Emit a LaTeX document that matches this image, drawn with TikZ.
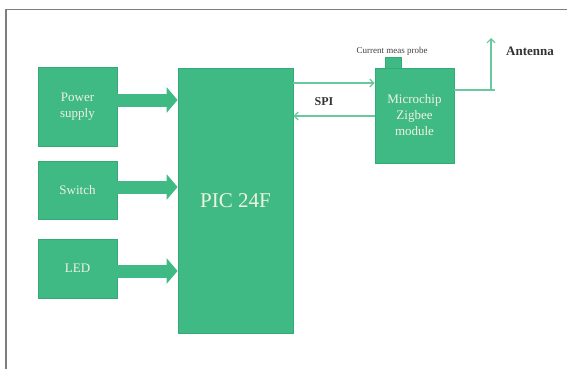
\documentclass[tikz,border=0pt]{standalone}
\usepackage{fontspec}
\setmainfont{Liberation Serif}
\usetikzlibrary{arrows.meta}
\definecolor{gfill}{RGB}{64,186,132}
\definecolor{gdraw}{RGB}{52,170,116}
\definecolor{gline}{RGB}{105,200,158}
\definecolor{gtext}{RGB}{240,242,225}
\definecolor{frame}{RGB}{125,125,125}
\tikzset{
  blk/.style={fill=gfill, draw=gdraw, line width=0.8pt, inner sep=0pt, align=center,
    text=gtext, font=\fontsize{13}{16}\selectfont},
  bigarrow/.style={draw=gfill, line width=13pt, line cap=butt,
    -{Triangle[length=11pt,width=25pt,fill=gfill,color=gfill]}},
  thinarrow/.style={draw=gline, line width=1.2pt, -{Straight Barb[length=4pt,width=8pt]}},
  thinline/.style={draw=gline, line width=1.2pt},
  lbl/.style={inner sep=0pt, text=black!80, font=\fontsize{12}{14}\selectfont\bfseries}
}
\begin{document}
\begin{tikzpicture}[x=1pt,y=-1pt]
\useasboundingbox (0,0) rectangle (567,369);
% frame
\draw[frame, line width=1.2pt] (6,369) -- (6,9.5) -- (567,9.5);
% left boxes
\node[blk, minimum width=79, minimum height=79] (ps) at (77.5,106.5) {Power\\supply};
\node[blk, minimum width=79, minimum height=58] (sw) at (77.5,190) {Switch};
\node[blk, minimum width=79, minimum height=59] (led) at (77.5,268.5) {LED};
% PIC
\node[blk, minimum width=115, minimum height=265, font=\fontsize{21}{25}\selectfont] (pic) at (235.5,200.5) {PIC 24F};
% Zigbee module
\node[blk, minimum width=79, minimum height=95] (zb) at (414.5,115.5) {Microchip\\Zigbee\\module};
\node[blk, minimum width=16, minimum height=11] (probe) at (393,62.5) {};
\node[inner sep=0pt, text=black!75, font=\fontsize{9}{10}\selectfont] (probelbl) at (392,51) {Current meas probe};
% block arrows
\draw[bigarrow] (ps.east |- 0,100) -- (pic.west |- 0,100);
\draw[bigarrow] (sw.east |- 0,187) -- (pic.west |- 0,187);
\draw[bigarrow] (led.east |- 0,271) -- (pic.west |- 0,271);
% SPI
\draw[thinarrow] (pic.east |- 0,83) -- (zb.west |- 0,83);
\draw[thinarrow] (zb.west |- 0,116) -- (pic.east |- 0,116);
\node[lbl] (spi) at (324,102) {SPI};
% antenna
\coordinate (antb) at (491,90);
\coordinate (antt) at (491,38);
\coordinate (ante) at (495,90);
\draw[thinline] (zb.east |- antb) -- (ante);
\draw[thinarrow] (antb) -- (antt);
\node[lbl, font=\fontsize{13}{15}\selectfont\bfseries] (antlbl) at (530,51) {Antenna};
\end{tikzpicture}
\end{document}
